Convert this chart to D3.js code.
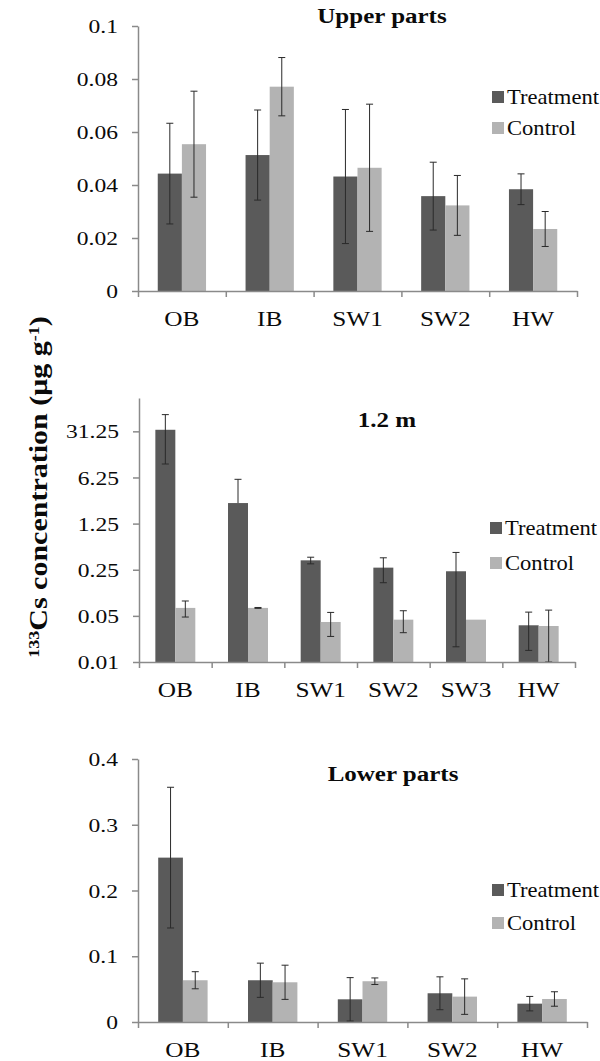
<!DOCTYPE html>
<html>
<head>
<meta charset="utf-8">
<script src="https://cdn.jsdelivr.net/npm/d3@7"></script>
<style>
  body { margin: 0; background: #fff; }
  text { font-family: "Liberation Serif", "Times New Roman", serif; fill: #0a0a0a; }
</style>
</head>
<body>
<script>
// values (mean and error bar half-length)
var seriesNames = ['Treatment', 'Control'];

var upperCats = ['OB', 'IB', 'SW1', 'SW2', 'HW'];
var upperTreat = [0.0443, 0.0513, 0.0432, 0.0358, 0.0384];
var upperTreatErr = [0.019, 0.017, 0.0253, 0.0128, 0.0058];
var upperCtrl = [0.0554, 0.0771, 0.0465, 0.0323, 0.0234];
var upperCtrlErr = [0.020, 0.011, 0.024, 0.0113, 0.0066];
var upperTicks = [0, 0.02, 0.04, 0.06, 0.08, 0.1];

var midCats = ['OB', 'IB', 'SW1', 'SW2', 'SW3', 'HW'];
var midTreat = [33, 2.56, 0.347, 0.269, 0.237, 0.036];
var midTreatErr = [23, 3.3, 0.04, 0.11, 0.22, 0.021];
var midCtrl = [0.066, 0.066, 0.0404, 0.0438, 0.0438, 0.0351];
var midCtrlErr = [0.018, 0.001, 0.016, 0.016, 0, 0.026];
var midTicks = [0.01, 0.05, 0.25, 1.25, 6.25, 31.25];

var lowCats = ['OB', 'IB', 'SW1', 'SW2', 'HW'];
var lowTreat = [0.25, 0.0635, 0.0345, 0.0437, 0.0279];
var lowTreatErr = [0.107, 0.026, 0.033, 0.025, 0.011];
var lowCtrl = [0.0635, 0.0604, 0.062, 0.0386, 0.035];
var lowCtrlErr = [0.013, 0.026, 0.005, 0.027, 0.011];
var lowTicks = [0, 0.1, 0.2, 0.3, 0.4];

var width = 600, height = 1061;
var darkGrey = '#5a5a5a', lightGrey = '#b3b3b3', axisGrey = '#8a8a8a', errColor = '#2a2a2a';

var svg = d3.select('body').append('svg')
    .attr('width', width)
    .attr('height', height);

svg.append('rect').attr('width', width).attr('height', height).attr('fill', '#fff');

// text in the figure is a bit wider than Times, so stretch it horizontally
function label(parent, x, y, txt, size, sx, anchor, weight) {
  return parent.append('text')
    .attr('transform', 'translate(' + x + ',' + y + ') scale(' + sx + ',1)')
    .attr('text-anchor', anchor || 'start')
    .style('font-size', size + 'px')
    .style('font-weight', weight || 'normal')
    .text(txt);
}

function drawPanel(p) {
  var g = svg.append('g');
  var n = p.cats.length;

  var x = d3.scaleBand().domain(p.cats).range([p.left, p.right]);
  var y = p.log
    ? d3.scaleLog().base(5).domain([p.min, p.max]).range([p.bottom, p.top])
    : d3.scaleLinear().domain([0, p.max]).range([p.bottom, p.top]);
  var base = p.bottom;
  var groupW = x.bandwidth() * 0.55, barW = groupW / 2;
  var gx = function(c) { return x(c) + (x.bandwidth() - groupW) / 2; };

  var series = [
    { vals: p.treat, errs: p.treatErr, color: darkGrey },
    { vals: p.ctrl, errs: p.ctrlErr, color: lightGrey }
  ];

  series.forEach(function(s, si) {
    var rows = p.cats.map(function(c, i) { return { cat: c, v: s.vals[i], e: s.errs[i] }; });

    g.selectAll(null).data(rows).enter().append('rect')
      .attr('x', function(d) { return gx(d.cat) + si * barW; })
      .attr('width', barW)
      .attr('y', function(d) { return y(d.v); })
      .attr('height', function(d) { return base - y(d.v); })
      .attr('fill', s.color);

    // error bars
    rows.forEach(function(d) {
      if (!d.e) return;
      var cx = gx(d.cat) + si * barW + barW / 2;
      var hi = d.v + d.e, lo = d.v - d.e;
      var hasLow = true;
      if (p.log && lo <= 0) { lo = d.v; hasLow = false; }
      if (p.log && lo < p.min) lo = p.min;
      if (!p.log && lo < 0) lo = 0;
      g.append('line').attr('x1', cx).attr('x2', cx)
        .attr('y1', y(hi)).attr('y2', y(lo))
        .attr('stroke', errColor).attr('stroke-width', 1);
      g.append('line').attr('x1', cx - 3.5).attr('x2', cx + 3.5)
        .attr('y1', y(hi)).attr('y2', y(hi))
        .attr('stroke', errColor).attr('stroke-width', 1);
      if (hasLow) {
        g.append('line').attr('x1', cx - 3.5).attr('x2', cx + 3.5)
          .attr('y1', y(lo)).attr('y2', y(lo))
          .attr('stroke', errColor).attr('stroke-width', 1);
      }
    });
  });

  // y axis
  var yAxis = g.append('g')
    .attr('transform', 'translate(' + p.left + ',0)')
    .call(d3.axisLeft(y).tickValues(p.ticks).tickSize(6).tickSizeOuter(0).tickFormat(String));
  yAxis.selectAll('text')
    .attr('x', null)
    .attr('dy', '0.35em')
    .attr('transform', 'translate(-20,0) scale(1.24,1)')
    .style('font-size', '19px');

  // x axis with ticks between categories
  var xb = d3.scaleLinear().domain([0, n]).range([p.left, p.right]);
  g.append('g')
    .attr('transform', 'translate(0,' + base + ')')
    .call(d3.axisBottom(xb).tickValues(d3.range(n + 1)).tickSize(6).tickSizeOuter(0).tickFormat(''));

  g.selectAll('.domain, .tick line')
    .attr('stroke', axisGrey)
    .attr('stroke-width', 1.5);

  p.cats.forEach(function(c) {
    label(g, x(c) + x.bandwidth() / 2, base + 35, c, 22, 1.15, 'middle');
  });

  // title
  label(g, p.titleX, p.titleY, p.title, 20, 1.25, 'middle', 'bold');

  // legend
  seriesNames.forEach(function(name, i) {
    var ly = p.legY[i];
    g.append('rect')
      .attr('x', p.legX).attr('y', ly - 6)
      .attr('width', 12).attr('height', 12)
      .attr('fill', i === 0 ? darkGrey : lightGrey);
    label(g, p.legX + 15, ly + 7, name, 20, 1.13, 'start');
  });
}

drawPanel({
  cats: upperCats, treat: upperTreat, treatErr: upperTreatErr,
  ctrl: upperCtrl, ctrlErr: upperCtrlErr, ticks: upperTicks,
  max: 0.1, log: false,
  left: 138, right: 577, top: 26, bottom: 291,
  title: 'Upper parts', titleX: 382, titleY: 23,
  legX: 492, legY: [97, 128]
});

drawPanel({
  cats: midCats, treat: midTreat, treatErr: midTreatErr,
  ctrl: midCtrl, ctrlErr: midCtrlErr, ticks: midTicks,
  min: 0.01, max: 100, log: true,
  left: 139, right: 575, top: 398, bottom: 662,
  title: '1.2 m', titleX: 387, titleY: 427,
  legX: 490, legY: [528, 563]
});

drawPanel({
  cats: lowCats, treat: lowTreat, treatErr: lowTreatErr,
  ctrl: lowCtrl, ctrlErr: lowCtrlErr, ticks: lowTicks,
  max: 0.4, log: false,
  left: 138, right: 587, top: 759, bottom: 1022,
  title: 'Lower parts', titleX: 393, titleY: 781,
  legX: 492, legY: [890, 923]
});

// shared y axis title
var yt = svg.append('text')
  .attr('transform', 'translate(47,487) rotate(-90) scale(1.2,1)')
  .attr('text-anchor', 'middle')
  .style('font-size', '25px')
  .style('font-weight', 'bold');
yt.append('tspan').style('font-size', '15px').attr('dy', '-0.55em').text('133');
yt.append('tspan').attr('dy', '0.33em').text('Cs concentration (μg g');
yt.append('tspan').style('font-size', '15px').attr('dy', '-0.55em').text('-1');
yt.append('tspan').attr('dy', '0.33em').text(')');
</script>
</body>
</html>
